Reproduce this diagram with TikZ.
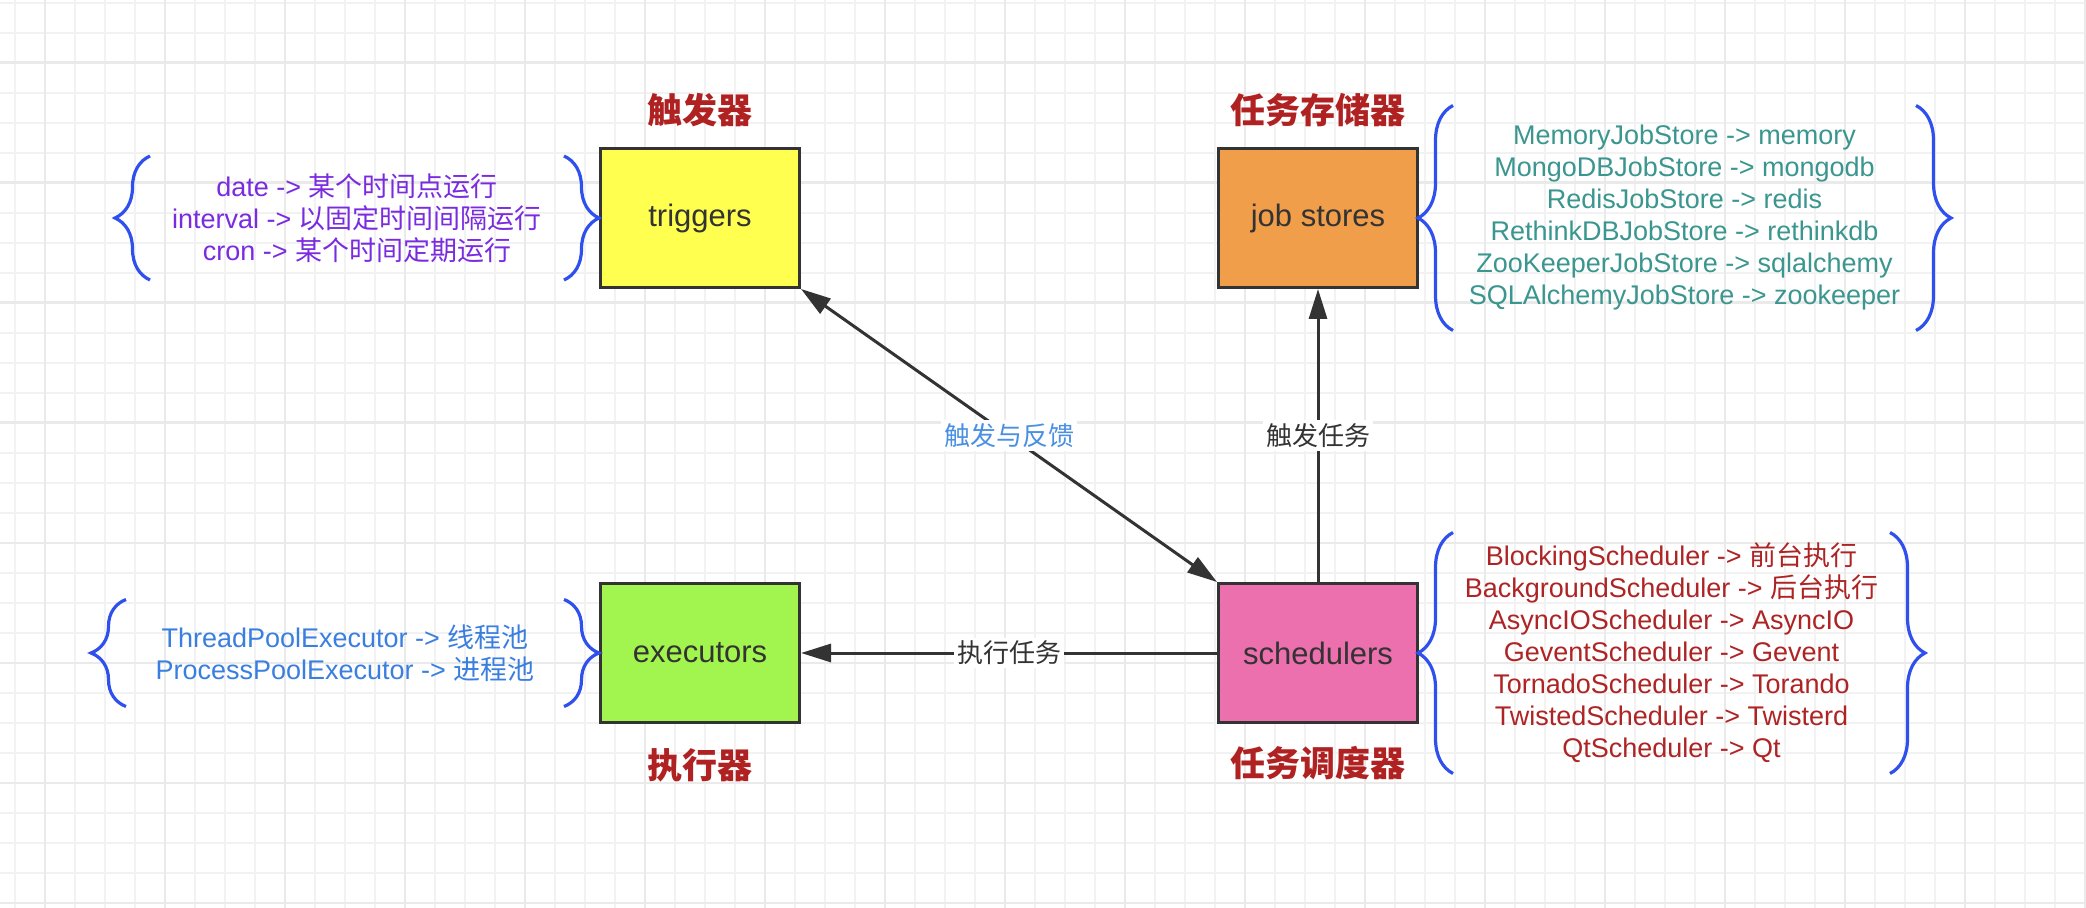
\documentclass[tikz,border=0pt]{standalone}
\usepackage{fontspec}
\setmainfont{Liberation Sans}
\newfontfamily\cjk{Noto Sans CJK SC}
\usepackage{xcolor}
\usepackage{tikz}
\usetikzlibrary{
  positioning,
  arrows.meta,
  decorations.pathreplacing
}

\definecolor{boxline}{HTML}{333333}
\definecolor{trigyellow}{HTML}{FFFF4F}
\definecolor{storeorange}{HTML}{F19E4B}
\definecolor{execgreen}{HTML}{A2F54E}
\definecolor{schedpink}{HTML}{EC6FAE}
\definecolor{titlered}{HTML}{B02222}
\definecolor{trigpurple}{HTML}{7A2BE0}
\definecolor{storeteal}{HTML}{3A968E}
\definecolor{execblue}{HTML}{3A7FE0}
\definecolor{schedred}{HTML}{AE2424}
\definecolor{braceblue}{HTML}{3050EE}
\definecolor{labelblue}{HTML}{4A90E2}
\definecolor{gridgray}{RGB}{242,242,242}
\definecolor{gridgraydark}{RGB}{234,234,234}

\begin{document}
\begin{tikzpicture}[
      x=0.5pt, y=-0.5pt,
      boxnode/.style={rectangle, draw=boxline, line width=1.5pt, minimum width=99.5pt, minimum height=69.5pt, text=boxline, font=\fontsize{15.5}{18}\selectfont},
      titlenode/.style={inner sep=0pt, text=titlered, font=\cjk\bfseries\fontsize{17.5}{20}\selectfont},
      listnode/.style={inner sep=0pt, outer sep=0pt, align=center, font=\fontsize{13.5}{16}\selectfont},
      bracket/.style={decorate, decoration={brace, amplitude=17.5pt}, draw=braceblue, line width=1.6pt},
      arrow/.style={-{Triangle[length=15pt, width=9pt]}, line width=1.5pt, draw=boxline},
      biarrow/.style={{Triangle[length=15pt, width=9pt]}-{Triangle[length=15pt, width=9pt]}, line width=1.5pt, draw=boxline},
      arrowlabel/.style={fill=white, inner sep=1.5pt, text=boxline, font=\cjk\fontsize{13}{15}\selectfont},
      gridminor/.style={draw=gridgray, line width=1pt},
      gridmajor/.style={draw=gridgraydark, line width=1.2pt}
    ]
      \useasboundingbox[fill=white] (0,0) rectangle (2086,908);

      % Grid
      \foreach \k in {0,...,69} \draw[gridminor] ({15+30*\k},0) -- ({15+30*\k},908);
      \foreach \k in {0,...,30} \draw[gridminor] (0,{2.7+30*\k}) -- (2086,{2.7+30*\k});
      \foreach \k in {0,...,17} \draw[gridmajor] ({45+120*\k},0) -- ({45+120*\k},908);
      \foreach \k in {0,...,7} \draw[gridmajor] (0,{62.7+120*\k}) -- (2086,{62.7+120*\k});

      % Boxes
      \node[boxnode, fill=trigyellow] (triggers) at (700,218) {triggers};
      \node[boxnode, fill=storeorange, right=208pt of triggers] (jobstores) {job stores};
      \node[boxnode, fill=execgreen, below=146.5pt of triggers] (executors) {executors};
      \node[boxnode, fill=schedpink, below=146.5pt of jobstores] (schedulers) {schedulers};

      % Titles
      \node[titlenode, above=10pt of triggers] (trigTitle) {触发器};
      \node[titlenode, above=10pt of jobstores] (storeTitle) {任务存储器};
      \node[titlenode, below=12pt of executors] (execTitle) {执行器};
      \node[titlenode, below=11pt of schedulers] (schedTitle) {任务调度器};

      % Lists
      \node[listnode, text=trigpurple, minimum width=207pt, minimum height=62pt, left=17.5pt of triggers] (trigList)
        {date -> {\cjk 某个时间点运行}\\interval -> {\cjk 以固定时间间隔运行}\\cron -> {\cjk 某个时间定期运行}};
      \node[listnode, text=execblue, minimum width=219pt, minimum height=53.5pt, left=17.5pt of executors] (execList)
        {ThreadPoolExecutor -> {\cjk 线程池}\\ProcessPoolExecutor -> {\cjk 进程池}};
      \node[listnode, text=storeteal, minimum width=231.5pt, minimum height=112.5pt, right=17pt of jobstores] (storeList)
        {MemoryJobStore -> memory\\MongoDBJobStore -> mongodb\\RedisJobStore -> redis\\RethinkDBJobStore -> rethinkdb\\ZooKeeperJobStore -> sqlalchemy\\SQLAlchemyJobStore -> zookeeper};
      \node[listnode, text=schedred, minimum width=218.5pt, minimum height=120.5pt, right=17pt of schedulers] (schedList)
        {BlockingScheduler -> {\cjk 前台执行}\\BackgroundScheduler -> {\cjk 后台执行}\\AsyncIOScheduler -> AsyncIO\\GeventScheduler -> Gevent\\TornadoScheduler -> Torando\\TwistedScheduler -> Twisterd\\QtScheduler -> Qt};

      % Braces
      \draw[bracket] (trigList.south west) -- (trigList.north west);
      \draw[bracket] (trigList.north east) -- (trigList.south east);
      \draw[bracket] (execList.south west) -- (execList.north west);
      \draw[bracket] (execList.north east) -- (execList.south east);
      \draw[bracket] (storeList.south west) -- (storeList.north west);
      \draw[bracket] (storeList.north east) -- (storeList.south east);
      \draw[bracket] (schedList.south west) -- (schedList.north west);
      \draw[bracket] (schedList.north east) -- (schedList.south east);

      % Arrows
      \draw[arrow] (schedulers) -- (executors) node[arrowlabel, midway] {执行任务};
      \draw[arrow] (schedulers) -- (jobstores) node[arrowlabel, midway] {触发任务};
      \draw[biarrow] (triggers.south east) -- (schedulers.north west) node[arrowlabel, midway, text=labelblue] {触发与反馈};
    \end{tikzpicture}
\end{document}
